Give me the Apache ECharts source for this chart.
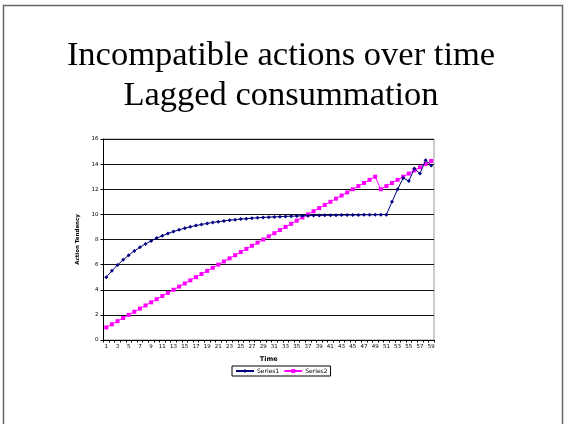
<!DOCTYPE html>
<html>
<head>
<meta charset="utf-8">
<script src="https://cdn.jsdelivr.net/npm/echarts@6/dist/echarts.min.js"></script>
<style>
  html, body { margin: 0; padding: 0; background: #fff; }
  #chart { width: 564px; height: 424px; }
</style>
</head>
<body>
<div id="chart"></div>
<script>
// Time steps 1..59
const timeSteps = [
  1,2,3,4,5,6,7,8,9,10,11,12,13,14,15,16,17,18,19,20,
  21,22,23,24,25,26,27,28,29,30,31,32,33,34,35,36,37,38,39,40,
  41,42,43,44,45,46,47,48,49,50,51,52,53,54,55,56,57,58,59
];

// Series1: rises towards 10, then jumps after step 51
const series1 = [
  5.00, 5.51, 5.97, 6.38, 6.75, 7.09, 7.38, 7.65, 7.89, 8.11,
  8.30, 8.48, 8.63, 8.77, 8.90, 9.01, 9.11, 9.20, 9.28, 9.36,
  9.42, 9.48, 9.54, 9.58, 9.63, 9.66, 9.70, 9.73, 9.76, 9.78,
  9.80, 9.82, 9.84, 9.86, 9.87, 9.89, 9.90, 9.91, 9.92, 9.93,
  9.93, 9.94, 9.95, 9.95, 9.96, 9.96, 9.97, 9.97, 9.97, 9.98,
  9.98, 11.0, 12.0, 12.9, 12.65, 13.65, 13.25, 14.3, 13.9
];

// Series2: steady climb, drop at step 50, then climbs again
const series2 = [
  1.00, 1.25, 1.50, 1.75, 2.00, 2.25, 2.50, 2.75, 3.00, 3.25,
  3.50, 3.75, 4.00, 4.25, 4.50, 4.75, 5.00, 5.25, 5.50, 5.75,
  6.00, 6.25, 6.50, 6.75, 7.00, 7.25, 7.50, 7.75, 8.00, 8.25,
  8.50, 8.75, 9.00, 9.25, 9.50, 9.75, 10.00, 10.25, 10.50, 10.75,
  11.00, 11.25, 11.50, 11.75, 12.00, 12.25, 12.50, 12.75, 13.00, 12.00,
  12.25, 12.50, 12.75, 13.00, 13.25, 13.50, 13.75, 14.00, 14.25
];

const seriesNames = ['Series1', 'Series2'];
const titleLines = ['Incompatible actions over time', 'Lagged consummation'];

const chart = echarts.init(document.getElementById('chart'), null, { renderer: 'canvas' });

const smallFont = 'DejaVu Sans, Verdana, sans-serif';

chart.setOption({
  backgroundColor: '#fff',
  animation: false,
  graphic: [{
    type: 'rect',
    shape: { x: 3.5, y: 5.5, width: 559, height: 440 },
    style: { fill: 'none', stroke: '#666', lineWidth: 1.5 },
    silent: true
  }],
  title: {
    text: titleLines.join('\n'),
    left: 276,
    top: 31,
    textAlign: 'center',
    textStyle: {
      fontFamily: 'Liberation Serif, Times New Roman, serif',
      fontSize: 34.5,
      fontWeight: 'normal',
      color: '#000',
      lineHeight: 40
    }
  },
  legend: {
    data: seriesNames,
    left: 232,
    top: 366,
    orient: 'horizontal',
    itemWidth: 18,
    itemHeight: 5,
    itemGap: 4,
    padding: [2, 3, 2, 3],
    borderColor: '#000',
    borderWidth: 1,
    textStyle: { fontFamily: smallFont, fontSize: 6, color: '#000', padding: [0, 0, 0, -2] }
  },
  grid: {
    left: 103.5,
    right: 130,
    top: 139,
    bottom: 84,
    show: true,
    borderColor: '#999',
    borderWidth: 1,
    containLabel: false
  },
  xAxis: {
    type: 'category',
    data: timeSteps,
    boundaryGap: true,
    name: 'Time',
    nameLocation: 'middle',
    nameGap: 16,
    nameTextStyle: { fontFamily: smallFont, fontSize: 6.5, fontWeight: 'bold', color: '#000' },
    axisLine: { lineStyle: { color: '#000', width: 1 } },
    axisTick: { show: true, interval: 0, length: 2.5, lineStyle: { color: '#000' } },
    axisLabel: { interval: 1, fontFamily: smallFont, fontSize: 5.5, color: '#000', margin: 4 },
    splitLine: { show: false }
  },
  yAxis: {
    type: 'value',
    min: 0,
    max: 16,
    interval: 2,
    name: 'Action Tendency',
    nameLocation: 'middle',
    nameGap: 14,
    nameRotate: 90,
    nameTextStyle: { fontFamily: smallFont, fontSize: 5.5, fontWeight: 'bold', color: '#000' },
    axisLine: { show: true, lineStyle: { color: '#000', width: 1 } },
    axisTick: { show: true, length: 3, lineStyle: { color: '#000' } },
    axisLabel: { fontFamily: smallFont, fontSize: 5.5, color: '#000', margin: 5 },
    splitLine: { show: true, lineStyle: { color: '#111', width: 1 } }
  },
  series: [
    {
      name: seriesNames[0],
      type: 'line',
      data: series1,
      symbol: 'diamond',
      symbolSize: 4,
      showAllSymbol: true,
      itemStyle: { color: '#000080' },
      lineStyle: { color: '#000080', width: 1 },
      z: 3
    },
    {
      name: seriesNames[1],
      type: 'line',
      data: series2,
      symbol: 'rect',
      symbolSize: 4,
      showAllSymbol: true,
      itemStyle: { color: '#FF00FF' },
      lineStyle: { color: '#FF00FF', width: 1 },
      z: 2
    }
  ]
});
</script>
</body>
</html>
